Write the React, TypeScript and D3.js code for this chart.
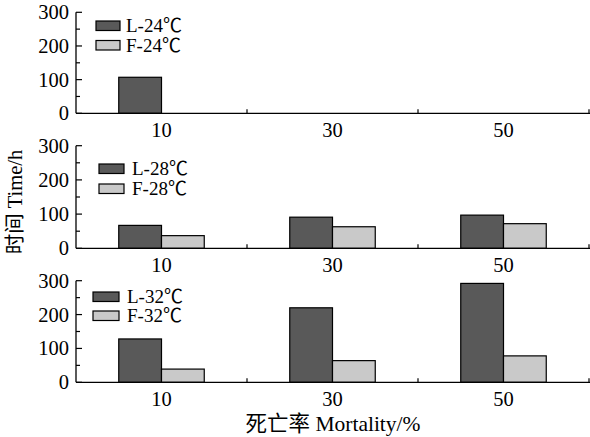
import React from "react";
import * as d3 from "d3";

const categories = ["10", "30", "50"];
const yTicks = [0, 100, 200, 300];
const yMinor = [50, 150, 250];

const L24 = [107, null, null];
const F24 = [null, null, null];
const L28 = [67, 91, 97];
const F28 = [37, 63, 72];
const L32 = [128, 220, 292];
const F32 = [39, 64, 78];

const panels = [
  { L: L24, F: F24, lName: "L-24℃", fName: "F-24℃", top: 12.3, bottom: 113.3, legX: 96, legY: 21, legW: 24, legGap: 19.5, textX: 126 },
  { L: L28, F: F28, lName: "L-28℃", fName: "F-28℃", top: 145.7, bottom: 248.3, legX: 99, legY: 164, legW: 25, legGap: 20, textX: 132 },
  { L: L32, F: F32, lName: "L-32℃", fName: "F-32℃", top: 280.7, bottom: 382.3, legX: 93, legY: 292, legW: 26, legGap: 19, textX: 127 },
];

const DARK = "#595959";
const LIGHT = "#c9c9c9";
const FONT = "Liberation Serif, Noto Sans CJK SC, DejaVu Serif, serif";
const TICK: React.CSSProperties = { fontFamily: FONT, fontSize: "20.5px" };
const LEG: React.CSSProperties = { fontFamily: FONT, fontSize: "19px" };
const TITLE: React.CSSProperties = { fontFamily: FONT, fontSize: "20.5px" };
const XTITLE: React.CSSProperties = { fontFamily: FONT, fontSize: "21.5px" };

const x0 = 76;
const x1 = 589;

export default function App() {
  const xBand = d3.scaleBand<string>().domain(categories).range([x0, x1]).paddingInner(0.5).paddingOuter(0.25);
  const xSub = d3.scaleBand<string>().domain(["L", "F"]).range([0, xBand.bandwidth()]);
  const step = xBand.step();
  const sepTicks = d3.range(1, categories.length + 1).map((i) => x0 + i * step);

  return (
    <svg width={590} height={437} style={{ position: "absolute", left: 0, top: 0, background: "#fff" }}>
      <rect x={0} y={0} width={590} height={437} fill="#fff" />
      {panels.map((p, pi) => {
        const y = d3.scaleLinear().domain([0, 300]).range([p.bottom, p.top]);
        return (
          <g key={pi}>
            {categories.map((c, ci) => {
              const bars = [
                { k: "L", v: p.L[ci], fill: DARK },
                { k: "F", v: p.F[ci], fill: LIGHT },
              ];
              return bars.map((b) =>
                b.v == null ? null : (
                  <rect
                    key={c + b.k}
                    x={(xBand(c) as number) + (xSub(b.k) as number)}
                    y={y(b.v)}
                    width={xSub.bandwidth()}
                    height={y(0) - y(b.v)}
                    fill={b.fill}
                    stroke="#000"
                    strokeWidth={1.2}
                  />
                )
              );
            })}
            <line x1={x0} x2={x0} y1={y(300)} y2={y(0)} stroke="#000" strokeWidth={1.3} />
            {yTicks.map((t) => (
              <g key={t}>
                <line x1={x0} x2={x0 + 6} y1={y(t)} y2={y(t)} stroke="#000" strokeWidth={1.2} />
                <text x={x0 - 7} y={y(t)} dy="0.34em" textAnchor="end" style={TICK}>
                  {t}
                </text>
              </g>
            ))}
            {yMinor.map((t) => (
              <line key={t} x1={x0} x2={x0 + 4} y1={y(t)} y2={y(t)} stroke="#000" strokeWidth={1.2} />
            ))}
            <line x1={x0} x2={590} y1={y(0)} y2={y(0)} stroke="#000" strokeWidth={1.3} />
            {sepTicks.map((sx, i) => (
              <line key={i} x1={sx} x2={sx} y1={y(0)} y2={y(0) - 4} stroke="#000" strokeWidth={1.2} />
            ))}
            {categories.map((c) => (
              <text key={c} x={(xBand(c) as number) + xBand.bandwidth() / 2} y={y(0) + 24} textAnchor="middle" style={TICK}>
                {c}
              </text>
            ))}
            <rect x={p.legX} y={p.legY} width={p.legW} height={9.5} fill={DARK} stroke="#000" strokeWidth={1.2} />
            <rect x={p.legX} y={p.legY + p.legGap} width={p.legW} height={9.5} fill={LIGHT} stroke="#000" strokeWidth={1.2} />
            <text x={p.textX} y={p.legY + 5} dy="0.34em" style={LEG}>
              {p.lName}
            </text>
            <text x={p.textX} y={p.legY + p.legGap + 5} dy="0.34em" style={LEG}>
              {p.fName}
            </text>
          </g>
        );
      })}
      <text transform="translate(22,202) rotate(-90)" textAnchor="middle" style={TITLE}>
        时间 Time/h
      </text>
      <text x={333} y={431} textAnchor="middle" style={XTITLE}>
        死亡率 Mortality/%
      </text>
    </svg>
  );
}
